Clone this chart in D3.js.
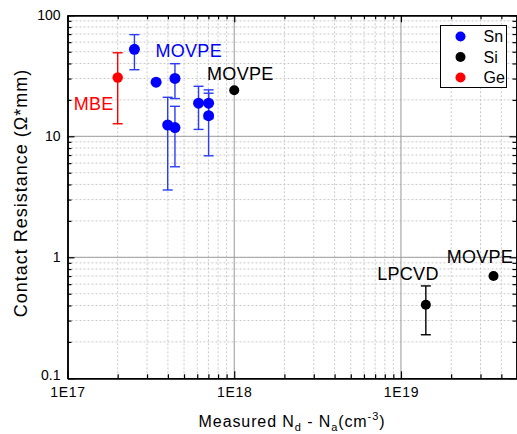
<!DOCTYPE html>
<html>
<head>
<meta charset="utf-8">
<script src="https://cdn.jsdelivr.net/npm/d3@7.9.0/dist/d3.min.js"></script>
<style>
  body { margin: 0; background: #fff; }
  svg { font-family: "Liberation Sans", Arial, sans-serif; display: block; }
</style>
</head>
<body>
<div id="chart"></div>
<script>
// data
const series = ['Sn', 'Si', 'Ge'];
const seriesColor = ['#0000ff', '#000000', '#ff0000'];
const errColor = ['#2a3cf5', '#000000', '#ff0000'];

const snX = [2.52e17, 3.40e17, 4.41e17, 3.99e17, 4.41e17, 6.11e17, 7.02e17, 7.02e17];
const snY = [52.3, 28.0, 30.1, 12.4, 11.8, 18.8, 18.8, 14.8];
const snLo = [35.5, null, 20.5, 3.6, 5.6, 11.4, 14.0, 6.9];
const snHi = [69.2, null, 39.8, 21.0, 17.7, 25.9, 24.2, 22.7];

const siX = [1.0e18, 1.41e19, 3.59e19];
const siY = [24.0, 0.405, 0.70];
const siLo = [null, 0.229, null];
const siHi = [null, 0.58, null];

const geX = [2.0e17];
const geY = [30.6];
const geLo = [12.7];
const geHi = [49];

const xTickLabels = ['1E17', '1E18', '1E19'];
const yTickLabels = ['0.1', '1', '10', '100'];

// labels: left edge and baseline, in data units
const annotations = [
  { text: 'MOVPE', x: 3.37e17, y: 45, color: '#0000ff' },
  { text: 'MOVPE', x: 6.87e17, y: 29.2, color: '#000000' },
  { text: 'MBE', x: 1.09e17, y: 16.5, color: '#ff0000' },
  { text: 'LPCVD', x: 7.2e18, y: 0.648, color: '#000000' },
  { text: 'MOVPE', x: 1.88e19, y: 0.892, color: '#000000' }
];

const width = 517, height = 434;
const svg = d3.select('#chart').append('svg')
  .attr('width', width).attr('height', height);

const pLeft = 67.5, pRight = 517.5, pTop = 15.3, pBottom = 378.3;
const x = d3.scaleLog().domain([1e17, 5e19]).range([pLeft, pRight]);
const y = d3.scaleLog().domain([0.1, 100]).range([pBottom, pTop]);

// minor / major values
const xMinor = [], yMinor = [];
for (let e = 17; e <= 19; e++) for (let m = 2; m <= 9; m++) {
  const v = m * Math.pow(10, e);
  if (v <= 5e19) xMinor.push(v);
}
for (let e = -1; e <= 1; e++) for (let m = 2; m <= 9; m++) yMinor.push(m * Math.pow(10, e));
const xMajor = [1e17, 1e18, 1e19];
const yMajor = [0.1, 1, 10, 100];

// grid
const grid = svg.append('g');
grid.append('g').selectAll('line').data(xMinor).join('line')
  .attr('x1', d => x(d)).attr('x2', d => x(d)).attr('y1', pTop).attr('y2', pBottom)
  .attr('stroke', '#c8c8c8').attr('stroke-dasharray', '2,2');
grid.append('g').selectAll('line').data(yMinor).join('line')
  .attr('x1', pLeft).attr('x2', pRight).attr('y1', d => y(d)).attr('y2', d => y(d))
  .attr('stroke', '#c8c8c8').attr('stroke-dasharray', '2,2');
grid.append('g').selectAll('line').data(xMajor.slice(1)).join('line')
  .attr('x1', d => x(d)).attr('x2', d => x(d)).attr('y1', pTop).attr('y2', pBottom)
  .attr('stroke', '#999');
grid.append('g').selectAll('line').data(yMajor.slice(1, 3)).join('line')
  .attr('x1', pLeft).attr('x2', pRight).attr('y1', d => y(d)).attr('y2', d => y(d))
  .attr('stroke', '#999');

// axes with inward ticks
function addAxis(axisFn, scale, transform, values, size) {
  const g = svg.append('g').attr('transform', transform)
    .call(axisFn(scale).tickValues(values).tickSize(size).tickSizeOuter(0).tickFormat(''));
  g.select('.domain').attr('stroke', '#000').attr('stroke-width', 1.5);
  g.selectAll('.tick line').attr('stroke', '#000').attr('stroke-width', 1.2);
  return g;
}
// bottom
addAxis(d3.axisTop, x, `translate(0,${pBottom})`, xMinor, 4);
addAxis(d3.axisTop, x, `translate(0,${pBottom})`, xMajor, 7);
svg.append('g').attr('transform', `translate(0,${pBottom})`)
  .call(d3.axisBottom(x).tickValues(xMajor).tickSize(0).tickPadding(8.5)
    .tickFormat((d, i) => xTickLabels[i]))
  .call(g => g.select('.domain').remove())
  .selectAll('text').attr('font-size', 14).attr('letter-spacing', 0.7).attr('fill', '#000');
// top
addAxis(d3.axisBottom, x, `translate(0,${pTop})`, xMinor, 4);
addAxis(d3.axisBottom, x, `translate(0,${pTop})`, xMajor, 7);
// left
addAxis(d3.axisRight, y, `translate(${pLeft},0)`, yMinor, 4);
addAxis(d3.axisRight, y, `translate(${pLeft},0)`, yMajor, 7);
svg.append('g').attr('transform', `translate(${pLeft},0)`)
  .call(d3.axisLeft(y).tickValues(yMajor).tickSize(0).tickPadding(7)
    .tickFormat((d, i) => yTickLabels[i]))
  .call(g => g.select('.domain').remove())
  .selectAll('text').attr('font-size', 14).attr('fill', '#000')
  .attr('dy', (d, i) => i === 0 ? '0.1em' : '0.32em');
// right
addAxis(d3.axisLeft, y, `translate(${pRight - 1},0)`, yMinor, 4);
addAxis(d3.axisLeft, y, `translate(${pRight - 1},0)`, yMajor, 7);

// data layers
const groups = [
  { xs: snX, ys: snY, lo: snLo, hi: snHi, k: 0, r: 5.5 },
  { xs: siX, ys: siY, lo: siLo, hi: siHi, k: 1, r: 5 },
  { xs: geX, ys: geY, lo: geLo, hi: geHi, k: 2, r: 5.2 }
];
groups.forEach(s => {
  const pts = s.xs.map((v, i) => ({ x: v, y: s.ys[i], lo: s.lo[i], hi: s.hi[i] }));
  const eb = svg.append('g').attr('stroke', errColor[s.k]).attr('stroke-width', 1.4);
  const withErr = pts.filter(d => d.lo != null);
  eb.append('g').selectAll('line').data(withErr).join('line')
    .attr('x1', d => x(d.x)).attr('x2', d => x(d.x))
    .attr('y1', d => y(d.lo)).attr('y2', d => y(d.hi));
  eb.append('g').selectAll('line').data(withErr).join('line')
    .attr('x1', d => x(d.x) - 5).attr('x2', d => x(d.x) + 5)
    .attr('y1', d => y(d.lo)).attr('y2', d => y(d.lo));
  eb.append('g').selectAll('line').data(withErr).join('line')
    .attr('x1', d => x(d.x) - 5).attr('x2', d => x(d.x) + 5)
    .attr('y1', d => y(d.hi)).attr('y2', d => y(d.hi));
  svg.append('g').selectAll('circle').data(pts).join('circle')
    .attr('cx', d => x(d.x)).attr('cy', d => y(d.y)).attr('r', s.r)
    .attr('fill', seriesColor[s.k]);
});

// annotations
svg.append('g').selectAll('text').data(annotations).join('text')
  .attr('x', d => x(d.x)).attr('y', d => y(d.y))
  .attr('font-size', 18).attr('letter-spacing', 0.3)
  .attr('fill', d => d.color).text(d => d.text);

// legend
const lg = svg.append('g').attr('transform', 'translate(440.5,25.5)');
lg.append('rect').attr('width', 66).attr('height', 62)
  .attr('fill', '#fff').attr('stroke', '#000').attr('stroke-width', 1);
series.forEach((s, i) => {
  lg.append('circle').attr('cx', 20).attr('cy', 11 + i * 20.5).attr('r', 5)
    .attr('fill', seriesColor[i]);
  lg.append('text').attr('x', 43).attr('y', 16.5 + i * 20.5)
    .attr('font-size', 16).attr('fill', '#000').text(s);
});

// axis titles
svg.append('text').attr('x', 292).attr('y', 427).attr('text-anchor', 'middle')
  .attr('font-size', 16).attr('letter-spacing', 0.9).attr('fill', '#000')
  .html('Measured N<tspan font-size="11" dy="4">d</tspan><tspan dy="-4"> - N</tspan><tspan font-size="11" dy="4">a</tspan><tspan dy="-4">(cm</tspan><tspan font-size="11" dy="-7">-3</tspan><tspan dy="7">)</tspan>');
svg.append('text').attr('transform', `translate(27,${193}) rotate(-90)`)
  .attr('text-anchor', 'middle').attr('font-size', 18).attr('letter-spacing', 1)
  .attr('fill', '#000')
  .text('Contact Resistance (Ω*mm)');
</script>
</body>
</html>
